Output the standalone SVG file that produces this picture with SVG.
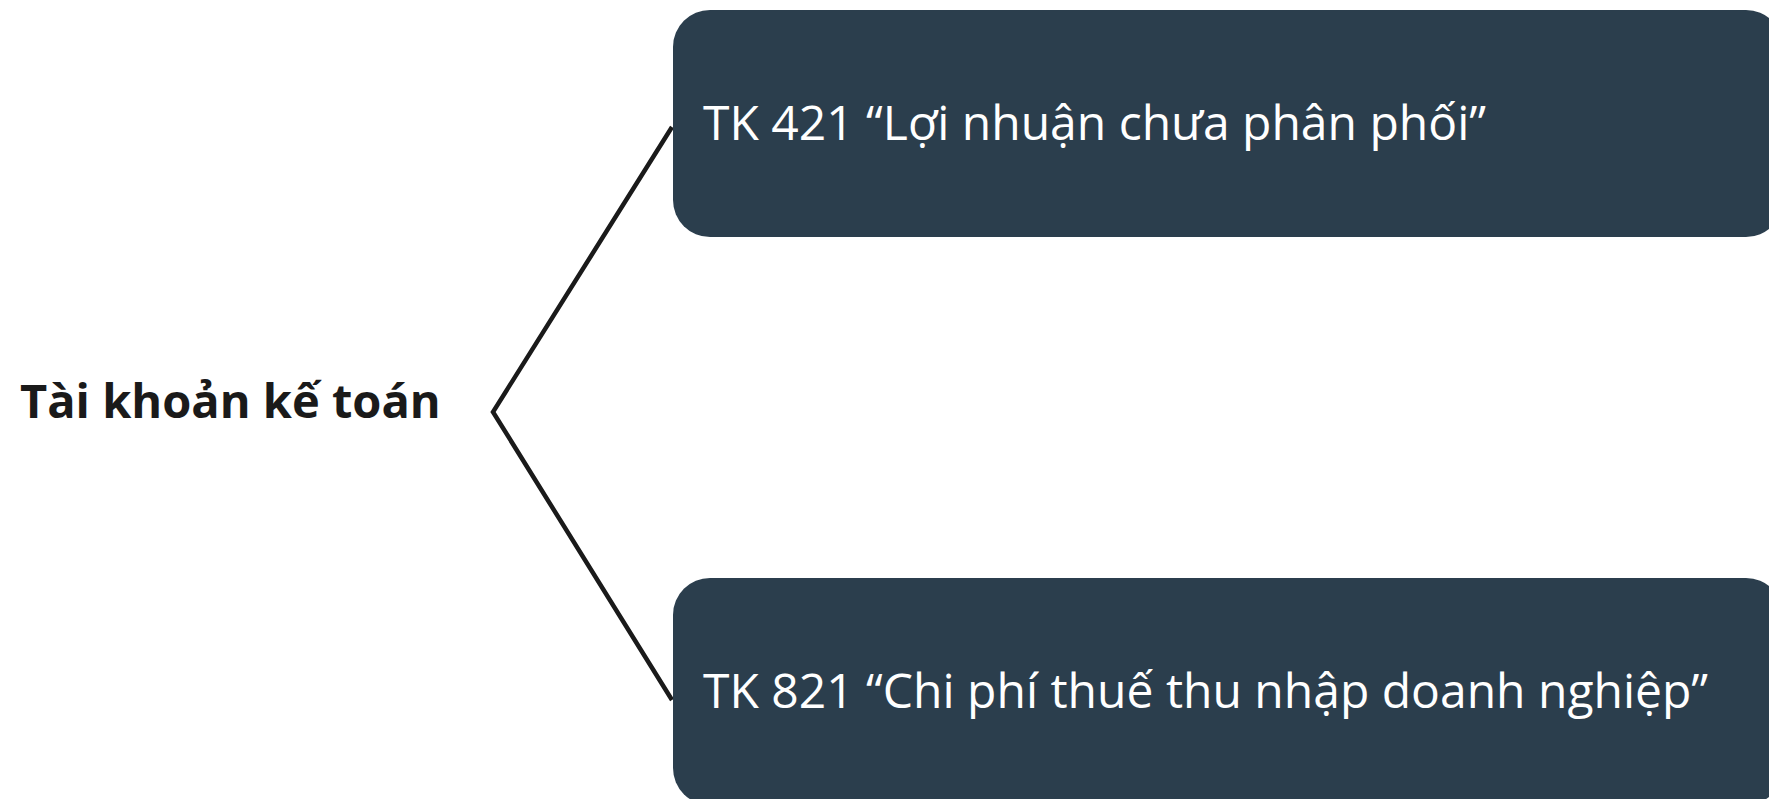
<svg xmlns="http://www.w3.org/2000/svg" width="1769" height="799" viewBox="0 0 1769 799">
<style>
.box{fill:#2b3e4d;}
.bt{font-family:"Open Sans","Noto Sans",sans-serif;font-size:48px;fill:#ffffff;}
.root{font-family:"Open Sans","Noto Sans",sans-serif;font-size:47px;font-weight:bold;fill:#1a1a1a;}
.conn{stroke:#1a1a1a;stroke-width:4.5;fill:none;}
</style>
<rect width="1769" height="799" fill="#ffffff"/>
<g id="connectors">
<polyline class="conn" points="672,127 493,412 672,700"/>
</g>
<g id="root">
<text class="root" x="20" y="418">Tài khoản kế toán</text>
</g>
<g id="tk421">
<rect class="box" x="673" y="10" width="1110" height="227" rx="37" ry="37"/>
<text class="bt" x="703" y="140">TK 421 “Lợi nhuận chưa phân phối”</text>
</g>
<g id="tk821">
<rect class="box" x="673" y="578" width="1110" height="227" rx="37" ry="37"/>
<text class="bt" x="703" y="708">TK 821 “Chi phí thuế thu nhập doanh nghiệp”</text>
</g>
</svg>
